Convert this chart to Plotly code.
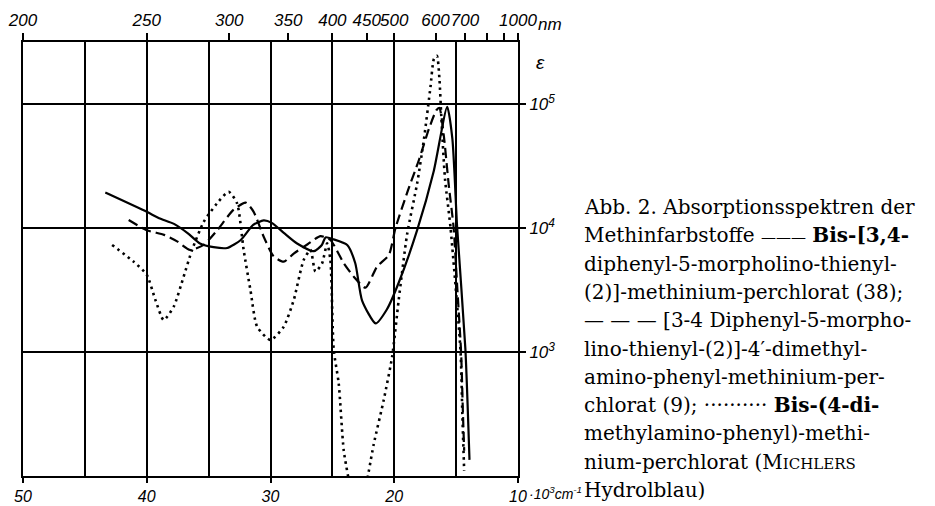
import plotly.graph_objects as go

# ---- data: wavenumber (10^3 cm^-1) and molar extinction epsilon ----
# solid: Bis-[3,4-diphenyl-5-morpholino-thienyl-(2)]-methinium-perchlorat (38)
nu_38 = [43.35, 40.0, 39.0, 37.8, 36.7, 35.7, 34.6, 33.5, 32.4, 31.4, 30.55, 29.9,
         28.9, 27.85, 26.5, 25.85, 25.55, 24.9, 23.8, 23.15, 22.6, 21.5, 20.6, 19.65,
         18.15, 16.8, 15.72, 15.3, 14.92, 14.25, 13.92]
eps_38 = [19300, 13500, 12000, 10800, 9100, 7500, 7000, 6900, 8000, 10600, 11500, 11000,
          9100, 7500, 6500, 7300, 8400, 8100, 7300, 5200, 2600, 1700, 2200, 3600,
          9600, 29000, 95000, 52000, 10200, 1050, 135]

# dashed: [3-4-Diphenyl-5-morpholino-thienyl-(2)]-4'-dimethylamino-phenyl-methinium-perchlorat (9)
nu_9 = [41.46, 40.0, 38.6, 37.55, 36.5, 35.4, 34.3, 33.0, 32.0, 31.36, 30.55, 29.74,
        28.93, 28.1, 27.0, 25.96, 25.16, 24.08, 23.27, 22.33, 21.38, 20.44, 19.9, 18.9,
        18.0, 17.2, 16.6, 16.35, 16.0, 15.6, 15.2, 14.9, 14.6, 14.45, 14.35]
eps_9 = [11600, 9600, 8800, 7800, 6650, 7300, 9600, 14000, 16000, 13500, 8500, 5900,
         5350, 6250, 7400, 8600, 8000, 5200, 4050, 3300, 4900, 6050, 10000, 20000,
         35500, 63000, 89000, 93000, 56000, 22400, 10000, 3200, 1000, 320, 160]

# dotted: Bis-(4-dimethylamino-phenyl)-methinium-perchlorat (Michlers Hydrolblau)
nu_mh = [42.8, 41.06, 40.0, 39.3, 38.63, 37.82, 37.02, 36.34, 35.4, 34.32, 33.38, 32.7,
         32.17, 31.62, 31.08, 30.0, 28.93, 28.12, 27.32, 26.77, 26.37, 25.83, 25.42, 25.16,
         24.89, 24.49, 24.08, 23.6, None, 22.25, 21.66, 20.85, 20.17, 19.64, 18.96, 18.15,
         17.6, 17.07, 16.8, 16.55, 16.35, 16.2, 15.9, 15.45, 14.64, 14.5, 14.35]
eps_mh = [7300, 5350, 4200, 2630, 1810, 2320, 4050, 6650, 11200, 15800, 19600, 15800,
          6650, 3160, 1600, 1250, 1600, 2630, 5520, 6650, 4450, 5190, 7530, 5520,
          1040, 560, 160, 85, None, 85, 180, 410, 920, 2630, 8900, 22900,
          52000, 138000, 230000, 245000, 160000, 80000, 25000, 10000, 1000, 320, 110]

x_tickvals = [50, 40, 30, 20, 10]
x_ticktext = ["50", "40", "30", "20", "10"]
x_gridvals = [45, 35, 25, 15]
nm_vals = [200, 250, 300, 350, 400, 450, 500, 600, 700, 1000]
nm_text = ["200", "250", "300", "350", "400", "450", "500", "600", "700", "1000"]
nm_minor = [800, 900]
eps_tickvals = [1e3, 1e4, 1e5]
eps_ticktext = ["10<sup>3</sup>", "10<sup>4</sup>", "10<sup>5</sup>"]

caption_lines = [
    "Abb. 2. Absorptionsspektren der",
    "Methinfarbstoffe <span style='font-size:15px'>———</span> <b>Bis-[3,4-</b>",
    "diphenyl-5-morpholino-thienyl-",
    "(2)]-methinium-perchlorat (38);",
    "— — — [3-4 Diphenyl-5-morpho-",
    "lino-thienyl-(2)]-4′-dimethyl-",
    "amino-phenyl-methinium-per-",
    "chlorat (9); ·········· <b>Bis-(4-di-</b>",
    "methylamino-phenyl)-methi-",
    "nium-perchlorat (M<span style='font-size:15px'>ICHLERS</span>",
    "Hydrolblau)",
]

# ---- layout geometry (pixels) ----
W, H = 935, 506
L, R, T, B = 23, 518, 42, 476


def px(x):
    return (x - L) / (R - L)


def py(y):
    return (B - y) / (B - T)


tick_font = dict(family="Liberation Sans Narrow, Liberation Sans, Arial", size=17,
                 color="black", style="italic")
bottom_font = dict(tick_font, size=16)
cap_font = dict(family="DejaVu Serif", size=20, color="black")

fig = go.Figure()
fig.add_trace(go.Scatter(x=nu_38, y=eps_38, mode="lines",
                         line=dict(color="black", width=2.2, shape="spline", smoothing=0.6),
                         showlegend=False, hoverinfo="skip"))
fig.add_trace(go.Scatter(x=nu_9, y=eps_9, mode="lines",
                         line=dict(color="black", width=2.2, dash="10px,5px",
                                   shape="spline", smoothing=0.6),
                         showlegend=False, hoverinfo="skip"))
fig.add_trace(go.Scatter(x=nu_mh, y=eps_mh, mode="lines",
                         line=dict(color="black", width=2.6, dash="2.5px,4px",
                                   shape="spline", smoothing=0.6),
                         showlegend=False, hoverinfo="skip"))
# carrier for the top (wavelength) axis
fig.add_trace(go.Scatter(x=[None], y=[None], xaxis="x2", mode="lines",
                         showlegend=False, hoverinfo="skip"))

fig.update_layout(
    width=W, height=H, autosize=False,
    margin=dict(l=L, r=W - R, t=T, b=H - B, pad=0),
    paper_bgcolor="white", plot_bgcolor="white",
    xaxis=dict(range=[50, 10], tickmode="array", tickvals=x_tickvals, ticktext=x_ticktext,
               ticks="outside", ticklen=5, tickwidth=1.5, tickcolor="black", tickangle=0,
               showline=True, mirror=True, linecolor="black", linewidth=2,
               showgrid=True, gridcolor="black", gridwidth=1.6, zeroline=False,
               tickfont=bottom_font, automargin=False,
               minor=dict(tickmode="array", tickvals=x_gridvals, ticks="",
                          showgrid=True, gridcolor="black", gridwidth=1.6)),
    xaxis2=dict(range=[50, 10], overlaying="x", side="top", anchor="y",
                tickmode="array", tickvals=[1e4 / v for v in nm_vals], ticktext=nm_text,
                ticks="outside", ticklen=8, tickwidth=1.5, tickcolor="black", tickangle=0,
                showline=False, showgrid=False, zeroline=False, tickfont=tick_font,
                automargin=False,
                minor=dict(tickmode="array", tickvals=[1e4 / v for v in nm_minor],
                           ticks="outside", ticklen=8, tickwidth=1.5, tickcolor="black",
                           showgrid=False)),
    yaxis=dict(type="log", range=[2, 5.5], side="right", tickmode="array",
               tickvals=eps_tickvals, ticktext=eps_ticktext,
               ticks="outside", ticklen=6, tickwidth=1.5, tickcolor="black",
               showline=True, mirror=True, linecolor="black", linewidth=2,
               showgrid=True, gridcolor="black", gridwidth=1.6, zeroline=False,
               tickfont=tick_font, automargin=False),
)

ann = [
    dict(text="ε", x=px(540), y=py(62), font=dict(tick_font, size=19)),
    dict(text="nm", x=px(536), y=py(24), xanchor="left", font=tick_font),
    dict(text="·10<sup>3</sup>cm<sup>-1</sup>", x=px(527), y=py(493), xanchor="left",
         font=dict(tick_font, size=14)),
]
for i, line in enumerate(caption_lines):
    ann.append(dict(text=line, x=px(582), y=py(207 + 28.3 * i), xanchor="left",
                    font=cap_font))
for a in ann:
    a.setdefault("xanchor", "center")
    a.update(xref="paper", yref="paper", yanchor="middle", showarrow=False)
fig.update_layout(annotations=ann)

fig.write_html(
    "out.html",
    config={"displayModeBar": False},
    post_script="document.body.style.margin='0px';document.body.style.overflow='hidden';",
)
